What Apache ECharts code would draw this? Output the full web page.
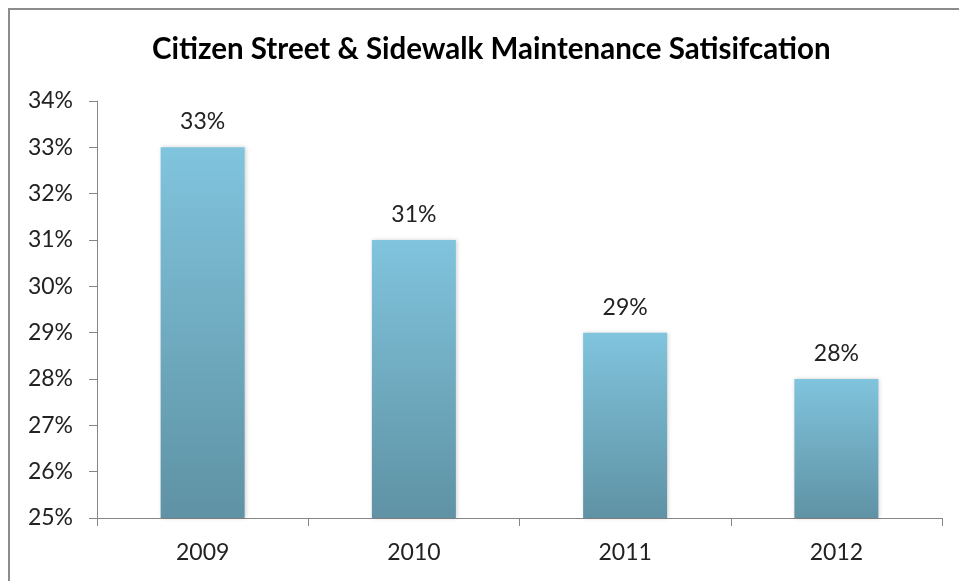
<!DOCTYPE html>
<html>
<head>
<meta charset="utf-8">
<script src="https://cdn.jsdelivr.net/npm/echarts@6/dist/echarts.min.js"></script>
<style>
  html, body { margin: 0; padding: 0; background: #fff; }
  #chart { width: 959px; height: 581px; }
  #frame {
    position: absolute; left: 8px; top: 8px; width: 1000px; height: 700px;
    border-left: 2px solid #8c8c8c; border-top: 2px solid #8c8c8c;
    pointer-events: none;
  }
</style>
</head>
<body>
<div id="chart"></div>
<div id="frame"></div>
<script>
// 年份与满意度
const years = ['2009', '2010', '2011', '2012']
const satisfaction = [33, 31, 29, 28]
const yMin = 25
const yMax = 34

const chartDom = document.getElementById('chart')
const myChart = echarts.init(chartDom)

const font = 'Lato, "Open Sans", sans-serif'

const option = {
  animation: false,
  title: {
    text: 'Citizen Street & Sidewalk Maintenance Satisifcation',
    left: 147,
    top: 29,
    textStyle: {
      color: '#000',
      fontSize: 29.5,
      fontWeight: 'bold',
      fontFamily: font
    }
  },
  grid: {
    left: 97,
    right: 17,
    top: 101,
    bottom: 63
  },
  xAxis: {
    type: 'category',
    data: years,
    axisLine: { lineStyle: { color: '#868686', width: 1 } },
    axisTick: { show: true, length: 8, lineStyle: { color: '#868686' } },
    axisLabel: { color: '#222', fontSize: 23, margin: 23, fontFamily: font }
  },
  yAxis: {
    type: 'value',
    min: yMin,
    max: yMax,
    interval: 1,
    axisLine: { show: true, lineStyle: { color: '#868686', width: 1 } },
    axisTick: { show: true, length: 8, lineStyle: { color: '#868686' } },
    splitLine: { show: false },
    axisLabel: {
      color: '#222',
      fontSize: 23,
      margin: 24,
      fontFamily: font,
      formatter: '{value}%'
    }
  },
  series: [
    {
      type: 'bar',
      data: satisfaction,
      barWidth: 84,
      itemStyle: {
        color: new echarts.graphic.LinearGradient(0, 0, 0, 1, [
          { offset: 0, color: '#80c4dd' },
          { offset: 1, color: '#5f92a4' }
        ]),
        shadowBlur: 4,
        shadowColor: 'rgba(0, 0, 0, 0.18)',
        shadowOffsetX: 1,
        shadowOffsetY: 0
      },
      label: {
        show: true,
        position: 'top',
        distance: 14,
        color: '#222',
        fontSize: 23,
        fontFamily: font,
        formatter: '{c}%'
      }
    }
  ]
}

myChart.setOption(option)
</script>
</body>
</html>
